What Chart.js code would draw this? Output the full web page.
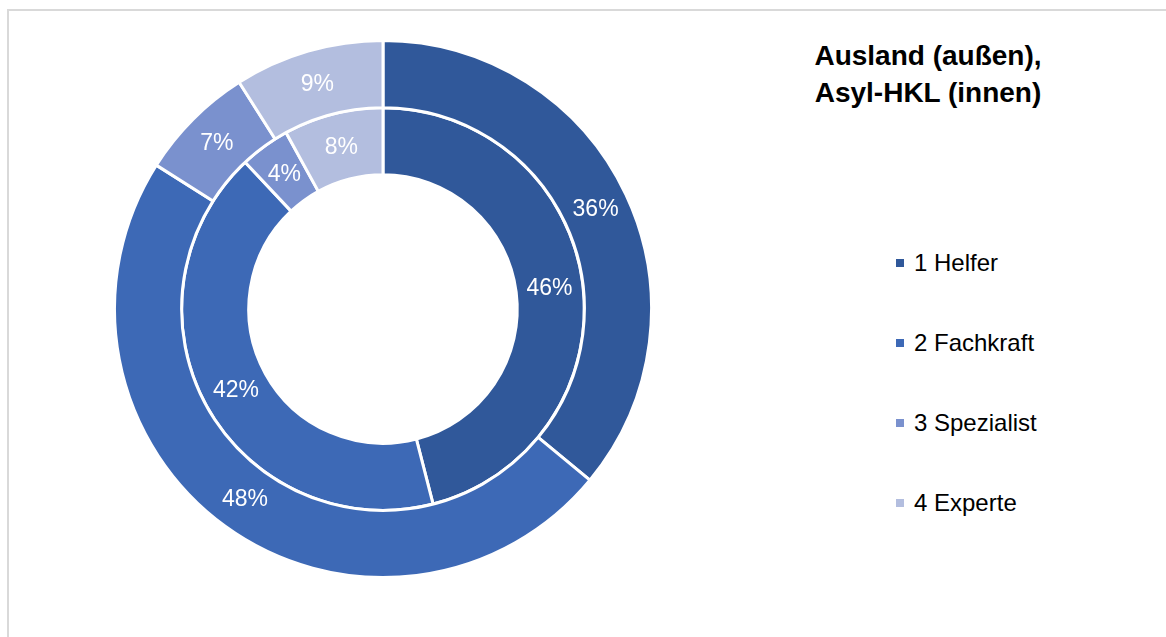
<!DOCTYPE html>
<html>
<head>
<meta charset="utf-8">
<script src="https://cdn.jsdelivr.net/npm/chart.js@4/dist/chart.umd.min.js"></script>
<style>
  html, body { margin: 0; padding: 0; background: #fff; overflow: hidden; }
  body { width: 1166px; height: 637px; position: relative; font-family: "Liberation Sans", Arial, sans-serif; }
  #frame { position: absolute; left: 7px; top: 9px; width: 1200px; height: 700px; border: 2px solid #d9d9d9; }
  #wrap { position: absolute; left: 113px; top: 39px; width: 540px; height: 540px; }
  #title { position: absolute; left: 778px; width: 300px; top: 37px; text-align: center; font-weight: bold; font-size: 28px; line-height: 37px; color: #000; }
  #legend { position: absolute; left: 896px; top: 243px; }
  .item { height: 80px; display: flex; align-items: flex-start; font-size: 24px; color: #000; }
  .item span.box { width: 8px; height: 8px; margin-top: 16px; margin-right: 10px; }
  .item span.lbl { line-height: 40px; }
</style>
</head>
<body>
<div id="frame"></div>
<div id="wrap"><canvas id="myChart"></canvas></div>
<div id="title">Ausland (außen),<br>Asyl-HKL (innen)</div>
<div id="legend"></div>

<script>
// daten
const categories = ['1 Helfer', '2 Fachkraft', '3 Spezialist', '4 Experte'];
const ausland = [36, 48, 7, 9];     // außen
const asylHkl = [46, 42, 4, 8];     // innen
const colors = ['#30589A', '#3D69B6', '#7A91CE', '#B3BEDF'];

// legende
const legend = document.getElementById('legend');
categories.forEach((c, i) => {
    const row = document.createElement('div');
    row.className = 'item';
    row.innerHTML = `<span class="box" style="background:${colors[i]}"></span><span class="lbl">${c}</span>`;
    legend.appendChild(row);
});

// prozent-beschriftung auf den ringen
const pctLabels = {
    id: 'pctLabels',
    afterDatasetsDraw(chart) {
        const ctx = chart.ctx;
        ctx.save();
        ctx.fillStyle = '#fff';
        ctx.font = '23px "Liberation Sans", Arial, sans-serif';
        ctx.textAlign = 'center';
        ctx.textBaseline = 'middle';
        chart.data.datasets.forEach((ds, di) => {
            chart.getDatasetMeta(di).data.forEach((arc, i) => {
                const p = arc.getProps(['x', 'y', 'startAngle', 'endAngle', 'innerRadius', 'outerRadius'], true);
                const a = (p.startAngle + p.endAngle) / 2;
                const r = (p.innerRadius + p.outerRadius) / 2;
                ctx.fillText(ds.data[i] + '%', p.x + Math.cos(a) * r, p.y + Math.sin(a) * r + 1);
            });
        });
        ctx.restore();
    }
};

const config = {
    type: 'doughnut',
    data: {
        labels: categories,
        datasets: [
            { label: 'Ausland', data: ausland, backgroundColor: colors, borderColor: '#fff', borderWidth: 3 },
            { label: 'Asyl-HKL', data: asylHkl, backgroundColor: colors, borderColor: '#fff', borderWidth: 3 }
        ]
    },
    options: {
        responsive: true,
        maintainAspectRatio: false,
        animation: false,
        cutout: '50%',
        layout: { padding: 0 },
        plugins: {
            legend: { display: false },
            tooltip: { enabled: false }
        }
    },
    plugins: [pctLabels]
};

var myChart = new Chart(document.getElementById('myChart'), config);
</script>
</body>
</html>
